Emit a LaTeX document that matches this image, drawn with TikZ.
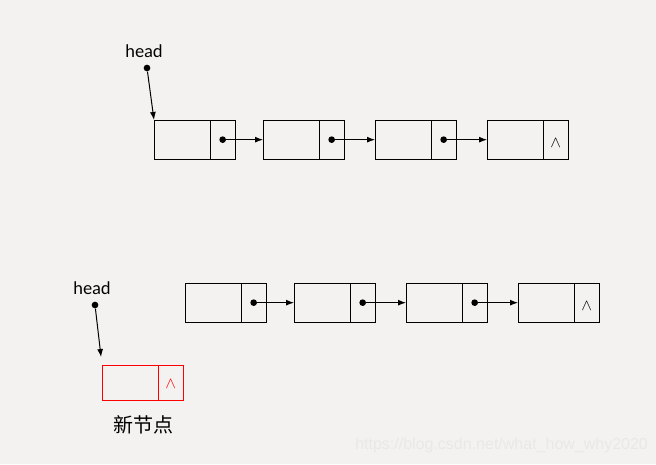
\documentclass[tikz,border=0pt]{standalone}
\usepackage{fontspec}
\setmainfont{Lato}
\newfontfamily\cjkfont{Noto Sans CJK SC}
\newfontfamily\wmfont{Liberation Sans}
\usetikzlibrary{arrows.meta, calc, positioning}
\definecolor{bgcol}{RGB}{243,242,240}
\tikzset{
  cell/.style     = {draw, line width=0.75pt, minimum height=29.5pt, inner sep=0pt, outer sep=0pt},
  datacell/.style = {cell, minimum width=42pt},
  ptrcell/.style  = {cell, minimum width=19pt},
  link/.style     = {-{Latex[length=6pt, width=4.5pt]}, line width=0.75pt},
  ptrdot/.style   = {circle, fill, inner sep=0pt, minimum size=5pt},
  lbl/.style      = {font=\fontsize{13}{15}\selectfont},
  nilmark/.style  = {font=\fontsize{11.5}{13}\selectfont, anchor=base, inner sep=0pt, yshift=-5.5pt},
  newcell/.style  = {draw=red, minimum height=26.5pt},
}
% one list node: data cell #1-d, pointer cell #1-p
\newcommand{\listnode}[4]{%
  \node[datacell, #4, anchor=north west] (#1-d) at (#2,#3) {};
  \node[ptrcell, #4, right=0pt of #1-d] (#1-p) {};
}

\begin{document}
\begin{tikzpicture}[x=0.75pt, y=-0.75pt]
  \fill[bgcol] (0,0) rectangle (656,464);
  \useasboundingbox (0,0) rectangle (656,464);

  % original list
  \node[lbl] (h1) at (144,51) {head};
  \node[ptrdot] (h1-dot) at (147,68) {};
  \listnode{n1}{154}{120}{}
  \listnode{n2}{263}{120}{}
  \listnode{n3}{375}{120}{}
  \listnode{n4}{487}{120}{}
  \node[ptrdot] (n1-dot) at (n1-p.center) {};
  \node[ptrdot] (n2-dot) at (n2-p.center) {};
  \node[ptrdot] (n3-dot) at (n3-p.center) {};
  \node[nilmark] (n4-nil) at (n4-p.center) {$\wedge$};
  \draw[link] (h1-dot) -- (n1-d.north west);
  \draw[link] (n1-dot) -- (n2-d.west);
  \draw[link] (n2-dot) -- (n3-d.west);
  \draw[link] (n3-dot) -- (n4-d.west);

  % list with new node
  \node[lbl] (h2) at (92,288) {head};
  \node[ptrdot] (h2-dot) at (95,305) {};
  \listnode{m1}{185}{283}{}
  \listnode{m2}{294}{283}{}
  \listnode{m3}{406}{283}{}
  \listnode{m4}{518}{283}{}
  \node[ptrdot] (m1-dot) at (m1-p.center) {};
  \node[ptrdot] (m2-dot) at (m2-p.center) {};
  \node[ptrdot] (m3-dot) at (m3-p.center) {};
  \node[nilmark] (m4-nil) at (m4-p.center) {$\wedge$};
  \draw[link] (m1-dot) -- (m2-d.west);
  \draw[link] (m2-dot) -- (m3-d.west);
  \draw[link] (m3-dot) -- (m4-d.west);

  \listnode{new}{102}{365}{newcell}
  \node[nilmark, red, yshift=1pt] (new-nil) at (new-p.center) {$\wedge$};
  \draw[link, shorten >=6pt] (h2-dot) -- (new-d.north west);
  \node[font=\cjkfont\fontsize{15}{17}\selectfont] (new-lbl) at (143,425) {新节点};

  \node[font=\wmfont\fontsize{12}{14}\selectfont, text=black!9, anchor=base west, inner sep=0pt] (wm) at (355,449) {https://blog.csdn.net/what\_how\_why2020};
\end{tikzpicture}
\end{document}
